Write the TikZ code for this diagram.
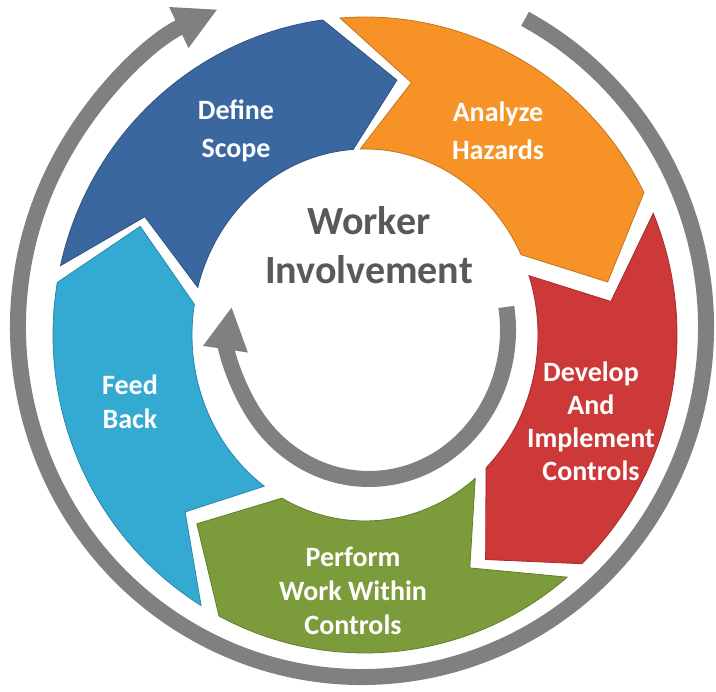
\documentclass[tikz,border=0pt]{standalone}
\usepackage{fontspec}
\setmainfont{Carlito}
\usepackage{tikz}
\usetikzlibrary{arrows.meta}
\definecolor{scopeblue}{RGB}{59,103,160}
\definecolor{hazardorange}{RGB}{246,146,38}
\definecolor{controlred}{RGB}{205,56,56}
\definecolor{workgreen}{RGB}{124,156,60}
\definecolor{feedcyan}{RGB}{52,170,210}
\definecolor{ringgray}{RGB}{128,128,128}
\definecolor{hubgray}{RGB}{89,89,89}
\tikzset{gray-ring/.style={draw=ringgray, line width=16pt, -{Triangle[width=42pt,length=43pt]}}}
\tikzset{seg-text/.style={text=white, align=center, font=\bfseries\fontsize{28}{#1}\selectfont}, seg-text/.default=34}
\tikzset{hub-text/.style={text=hubgray, align=center, font=\bfseries\fontsize{40}{49}\selectfont}}
% colour, outer tail, notch, inner tail, outer head, point, inner head
\newcommand{\ringseg}[7]{\filldraw[fill=#1, draw=#1!80!black, line width=0.8pt]
  (#2:312 and 318) arc[start angle=#2, end angle=#5, x radius=312, y radius=318]
  -- (#6:248 and 257) -- (#7:173 and 186)
  arc[start angle=#7, end angle=#4, x radius=173, y radius=186]
  -- (#3:248 and 257) -- cycle;}

\begin{document}
\begin{tikzpicture}[x=1pt, y=1pt]
      \useasboundingbox (0,0) rectangle (716,692);

      \draw[gray-ring] (362,365) ++(61.7:344 and 350)
        arc[start angle=61.7, end angle=-245.2, x radius=344, y radius=350];
      \draw[gray-ring] (369,362) ++(8.9:139 and 149)
        arc[start angle=8.9, end angle=-189, x radius=139, y radius=149];

      \begin{scope}[shift={(365,357)}]
        \ringseg{scopeblue}{167.4}{152.6}{165.2}{97.8}{82.6}{93.9}
        \ringseg{hazardorange}{94.6}{79.2}{91.6}{26.6}{11.9}{25.6}
        \ringseg{controlred}{22.5}{7.5}{18.6}{-46}{-60.9}{-45.6}
        \ringseg{workgreen}{-49.6}{-65}{-50.4}{-117.9}{-132.7}{-118.7}
        \ringseg{feedcyan}{-121.7}{-136.5}{-125.6}{-189.5}{-205}{-189.5}
      \end{scope}

      \node[seg-text=38] (scope) at (236,561) {Define\\Scope};
      \node[seg-text=38] (hazards) at (498,561) {Analyze\\Hazards};
      \node[seg-text=33] (controls) at (591,271) {Develop\\And\\Implement\\Controls};
      \node[seg-text] (perform) at (353,101) {Perform\\Work Within\\Controls};
      \node[seg-text] (feedback) at (130,290) {Feed\\Back};
      \node[hub-text] (hub) at (369,447) {Worker\\Involvement};
\end{tikzpicture}
\end{document}
